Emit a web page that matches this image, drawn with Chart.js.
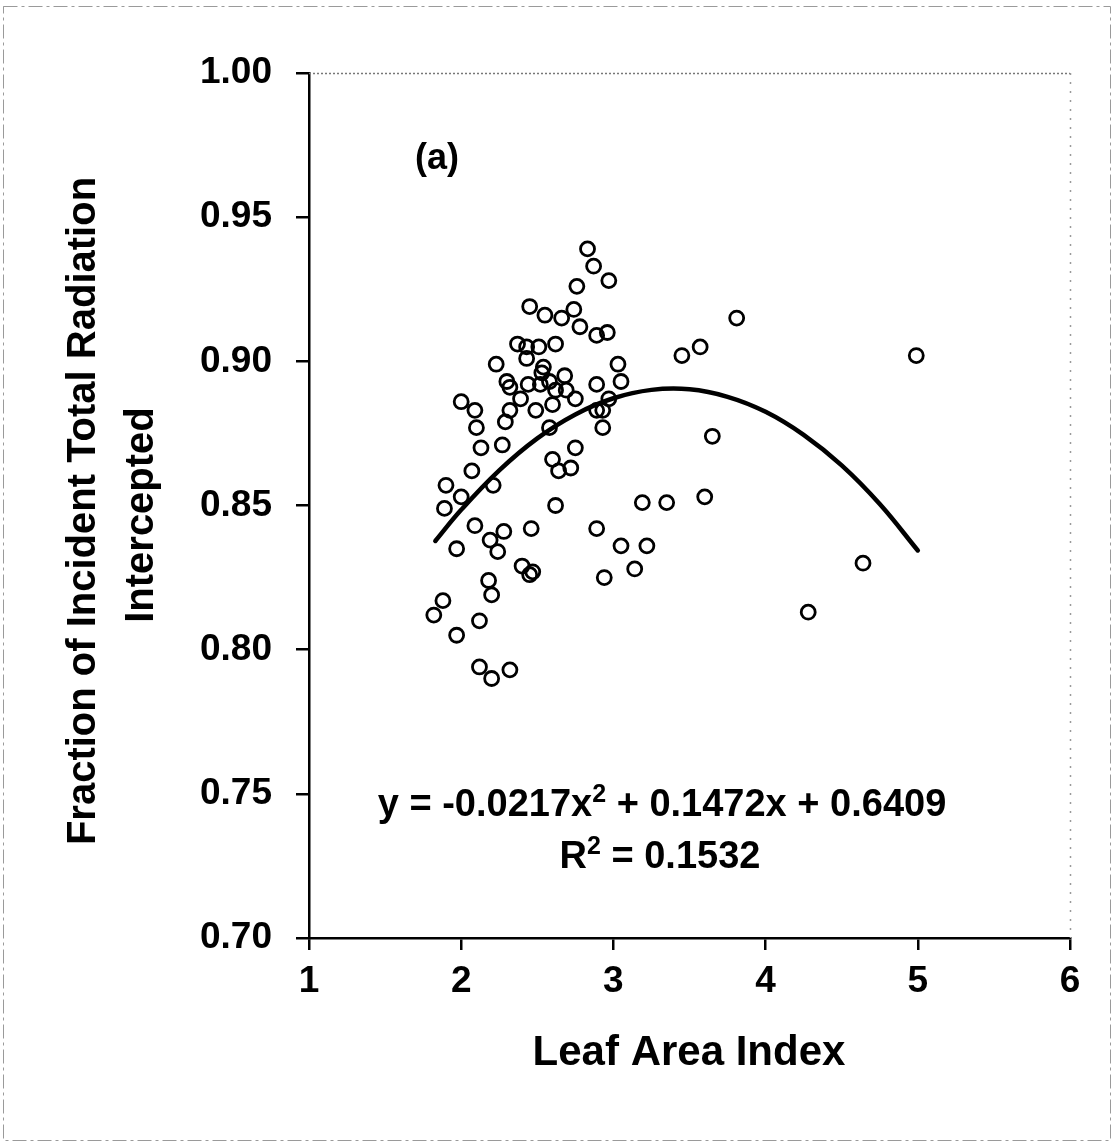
<!DOCTYPE html>
<html>
<head>
<meta charset="utf-8">
<script src="https://cdn.jsdelivr.net/npm/chart.js@4.4.1/dist/chart.umd.min.js"></script>
<style>
  html, body { margin: 0; padding: 0; background: #ffffff; }
  #wrap { position: relative; width: 1114px; height: 1148px; }
  canvas { display: block; }
</style>
</head>
<body>
<div id="wrap"><canvas id="c" width="1114" height="1148"></canvas></div>
<script>
// Observed points: Leaf Area Index (x) vs fraction intercepted (y)
const lai = [
  2.83, 2.87, 2.97, 2.76, 2.45, 2.55, 2.66, 2.74, 2.78, 2.89, 2.96, 2.37, 2.43, 2.51, 2.62,
  2.43, 2.23, 3.03, 2.54, 2.53, 2.68, 2.30, 2.32, 2.44, 2.52, 2.58, 2.62, 2.69, 2.89, 3.05,
  2.00, 2.39, 2.75, 2.09, 2.49, 2.60, 2.97, 2.32, 2.29, 2.89, 2.93, 2.10, 2.58, 2.93, 2.13,
  2.27, 2.75, 2.60, 2.64, 2.72, 2.07, 1.90, 2.00, 2.21, 1.89, 2.62, 3.19, 2.09, 2.28, 2.19,
  2.24, 1.97, 2.46, 2.89, 3.05, 3.22, 2.94, 3.14, 2.40, 2.47, 2.45, 2.18, 2.20, 1.88, 1.82,
  2.12, 1.97, 2.12, 2.20, 2.32, 3.81, 3.45, 3.57, 4.99, 3.65, 3.60, 3.35, 4.64, 4.28
];
const fraction = [
  0.939, 0.933, 0.928, 0.926, 0.919, 0.916, 0.915, 0.918, 0.912, 0.909, 0.910, 0.906, 0.905, 0.905, 0.906,
  0.901, 0.899, 0.899, 0.898, 0.896, 0.895, 0.893, 0.891, 0.892, 0.892, 0.893, 0.890, 0.890, 0.892, 0.893,
  0.886, 0.887, 0.887, 0.883, 0.883, 0.885, 0.887, 0.883, 0.879, 0.883, 0.883, 0.877, 0.877, 0.877, 0.870,
  0.871, 0.870, 0.866, 0.862, 0.863, 0.862, 0.857, 0.853, 0.857, 0.849, 0.850, 0.851, 0.843, 0.841, 0.838,
  0.834, 0.835, 0.842, 0.842, 0.836, 0.836, 0.825, 0.828, 0.829, 0.827, 0.826, 0.824, 0.819, 0.817, 0.812,
  0.810, 0.805, 0.794, 0.790, 0.793, 0.915, 0.902, 0.905, 0.902, 0.874, 0.853, 0.851, 0.830, 0.813
];
// Fitted polynomial trend line
const trendLai = [1.83, 2.0, 2.25, 2.5, 2.75, 3.0, 3.25, 3.5, 3.75, 4.0, 4.25, 4.5, 4.75, 5.0];
const trendFraction = [0.8377, 0.8485, 0.8622, 0.8733, 0.8816, 0.8872, 0.8901, 0.8903, 0.8877, 0.8825, 0.8745, 0.8639, 0.8505, 0.8344];

const xTicks = [1, 2, 3, 4, 5, 6];
const yTicks = [0.70, 0.75, 0.80, 0.85, 0.90, 0.95, 1.00];

const xTitle = 'Leaf Area Index';
const yTitleLines = ['Fraction of Incident Total Radiation', 'Intercepted'];
const panelLabel = '(a)';
const eqParts = ['y = -0.0217x', '2', ' + 0.1472x + 0.6409'];
const r2Parts = ['R', '2', ' = 0.1532'];

const FONT = '"Liberation Sans", Arial, Helvetica, sans-serif';

const scatterData = lai.map((v, i) => ({ x: v, y: fraction[i] }));
const trendData = trendLai.map((v, i) => ({ x: v, y: trendFraction[i] }));

function drawSupLine(ctx, parts, cx, cy, size, supSize, supRaise) {
  ctx.font = 'bold ' + size + 'px ' + FONT;
  const w0 = ctx.measureText(parts[0]).width;
  const w2 = ctx.measureText(parts[2]).width;
  ctx.font = 'bold ' + supSize + 'px ' + FONT;
  const w1 = ctx.measureText(parts[1]).width;
  const total = w0 + w1 + w2;
  let x = cx - total / 2;
  ctx.textAlign = 'left';
  ctx.textBaseline = 'alphabetic';
  ctx.font = 'bold ' + size + 'px ' + FONT;
  ctx.fillText(parts[0], x, cy);
  x += w0;
  ctx.font = 'bold ' + supSize + 'px ' + FONT;
  ctx.fillText(parts[1], x, cy - supRaise);
  x += w1;
  ctx.font = 'bold ' + size + 'px ' + FONT;
  ctx.fillText(parts[2], x, cy);
}

const textPlugin = {
  id: 'texts',
  beforeDraw(chart) {
    const ctx = chart.ctx;
    ctx.save();
    ctx.fillStyle = '#ffffff';
    ctx.fillRect(0, 0, chart.width, chart.height);
    // faint scanned page frame
    ctx.strokeStyle = '#9a9a9a';
    ctx.lineWidth = 1;
    ctx.setLineDash([14, 4, 3, 4]);
    ctx.strokeRect(3.5, 6.5, 1107, 1134);
    ctx.restore();
  },
  afterDraw(chart) {
    const ctx = chart.ctx;
    const a = chart.chartArea;
    ctx.save();
    // dotted top & right frame of plot area
    ctx.strokeStyle = '#777777';
    ctx.lineWidth = 1.5;
    ctx.setLineDash([2, 2]);
    ctx.beginPath();
    ctx.moveTo(a.left, a.top + 0.5);
    ctx.lineTo(a.right, a.top + 0.5);
    ctx.stroke();
    ctx.strokeStyle = '#9a9a9a';
    ctx.setLineDash([2, 7]);
    ctx.beginPath();
    ctx.moveTo(a.right + 0.5, a.top);
    ctx.lineTo(a.right + 0.5, a.bottom);
    ctx.stroke();
    ctx.setLineDash([]);

    ctx.fillStyle = '#000000';
    // x title
    ctx.font = 'bold 42px ' + FONT;
    ctx.textAlign = 'center';
    ctx.textBaseline = 'middle';
    ctx.fillText(xTitle, 689, 1053);
    // y title
    ctx.save();
    ctx.translate(84, 511);
    ctx.rotate(-Math.PI / 2);
    ctx.font = 'bold 40px ' + FONT;
    ctx.textAlign = 'center';
    ctx.textBaseline = 'middle';
    ctx.fillText(yTitleLines[0], 0, 0);
    ctx.fillText(yTitleLines[1], -4, 58);
    ctx.restore();
    // panel label
    ctx.font = 'bold 36px ' + FONT;
    ctx.textAlign = 'center';
    ctx.textBaseline = 'middle';
    ctx.fillText(panelLabel, 437, 159);
    // equation and R2
    drawSupLine(ctx, eqParts, 662, 816, 38, 25, 14);
    drawSupLine(ctx, r2Parts, 660, 868, 38, 25, 14);
    ctx.restore();
  }
};

new Chart(document.getElementById('c'), {
  type: 'scatter',
  data: {
    datasets: [
      {
        label: 'Observed',
        data: scatterData,
        pointStyle: 'circle',
        pointRadius: 7,
        pointHoverRadius: 7,
        pointBorderWidth: 2.8,
        pointBorderColor: '#000000',
        pointBackgroundColor: 'rgba(255,255,255,0)',
        showLine: false,
        order: 2
      },
      {
        type: 'line',
        label: 'Trend',
        data: trendData,
        borderColor: '#000000',
        borderWidth: 4.5,
        pointRadius: 0,
        fill: false,
        showLine: true,
        tension: 0.4,
        borderCapStyle: 'round',
        borderJoinStyle: 'round',
        order: 1
      }
    ]
  },
  options: {
    responsive: false,
    animation: false,
    devicePixelRatio: 1,
    layout: { padding: { left: 0, right: 44, top: 73, bottom: 0 } },
    plugins: {
      legend: { display: false },
      tooltip: { enabled: false },
      title: { display: false }
    },
    scales: {
      x: {
        type: 'linear',
        min: 1, max: 6,
        afterBuildTicks(scale) { scale.ticks = xTicks.map(v => ({ value: v })); },
        afterFit(scale) { scale.height = 210; },
        border: { display: true, color: '#000000', width: 2.5 },
        grid: { display: true, drawOnChartArea: false, drawTicks: true, tickLength: 12, color: '#000000', lineWidth: 2.5 },
        ticks: {
          color: '#000000',
          padding: 10,
          font: { family: FONT, size: 37, weight: 'bold' },
          callback: v => String(v)
        }
      },
      y: {
        type: 'linear',
        min: 0.70, max: 1.00,
        afterBuildTicks(scale) { scale.ticks = yTicks.map(v => ({ value: v })); },
        afterFit(scale) { scale.width = 309; },
        border: { display: true, color: '#000000', width: 2.5 },
        grid: { display: true, drawOnChartArea: false, drawTicks: true, tickLength: 13, color: '#000000', lineWidth: 2.5 },
        ticks: {
          color: '#000000',
          padding: 24,
          font: { family: FONT, size: 37, weight: 'bold' },
          callback: v => Number(v).toFixed(2)
        }
      }
    }
  },
  plugins: [textPlugin]
});
</script>
</body>
</html>
